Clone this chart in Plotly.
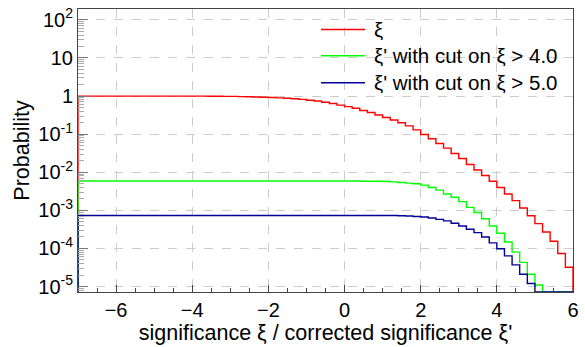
import numpy as np
import plotly.graph_objects as go

# Histogram binning: 65 bins of width 0.2 from -7 to 6
bin_lo = -7.0
bin_hi = 6.0
n_bins = 65

# Probability per bin (survival-type curves)
xi_all = (
    [1.0] * 17 +
    [0.99, 0.99, 0.985, 0.98, 0.97, 0.96, 0.95, 0.935, 0.92, 0.90,
     0.875, 0.85, 0.82, 0.78, 0.74, 0.69, 0.64, 0.58, 0.53, 0.48,
     0.42, 0.37, 0.32, 0.275, 0.235, 0.20, 0.165, 0.13, 0.098, 0.076,
     0.057, 0.043, 0.031, 0.023, 0.016, 0.0115, 0.0082, 0.0058, 0.0040, 0.0027,
     0.0018, 0.00115, 0.00072, 0.00045, 0.00027, 0.000155, 0.000074, 0.000032]
)
xi_cut4 = (
    [0.0059] * 37 +
    [0.0058, 0.0058, 0.0058, 0.0057, 0.0056, 0.0054, 0.0052, 0.0050, 0.0046, 0.0040,
     0.0034, 0.0027, 0.0022, 0.0017, 0.0012, 0.00088, 0.00060, 0.00039, 0.00025, 0.000148,
     0.000080, 0.000043, 0.000021, 0.000011] +
    [0.0] * 4
)
xi_cut5 = (
    [0.00073] * 42 +
    [0.00072, 0.00071, 0.00069, 0.00067, 0.00063, 0.00058, 0.00053, 0.00046, 0.00039, 0.00032,
     0.00026, 0.00020, 0.00014, 0.000098, 0.000064, 0.000037, 0.000021, 0.000012] +
    [0.0] * 5
)

series_names = ["ξ", "ξ' with cut on ξ > 4.0", "ξ' with cut on ξ > 5.0"]
series_colors = ["#ff0000", "#00ff00", "#000099"]

x_major = [-6, -4, -2, 0, 2, 4, 6]
x_minor = [v for v in np.arange(-6.5, 6.0, 0.5) if v not in x_major]

y_log_range = [-5.143, 2.286]
y_floor = 10 ** y_log_range[0]
y_major = [10.0 ** k for k in range(-5, 3)]
y_labels = ["10<sup>-5</sup>", "10<sup>-4</sup>", "10<sup>-3</sup>", "10<sup>-2</sup>",
            "10<sup>-1</sup>", "1", "10", "10<sup>2</sup>"]
y_minor = [m * 10.0 ** k for k in range(-6, 3) for m in range(2, 10)]

edges = np.linspace(bin_lo, bin_hi, n_bins + 1)

# Canvas / plot-area geometry in pixels
W, H = 585, 347
M_L, M_R, M_T, M_B = 78, 12, 6, 55
plot_w = W - M_L - M_R
plot_h = H - M_T - M_B


def px_to_paper(px, py):
    return (px - M_L) / plot_w, 1 - (py - M_T) / plot_h


def outline(values):
    """Histogram outline closed down to the axis floor at both ends."""
    v = np.maximum(np.asarray(values, dtype=float), y_floor)
    xs = np.concatenate([[edges[0]], edges[:-1], [edges[-1], edges[-1]]])
    ys = np.concatenate([[y_floor], v, [v[-1], y_floor]])
    return xs, ys


fig = go.Figure()
for vals, name, col in zip([xi_all, xi_cut4, xi_cut5], series_names, series_colors):
    xs, ys = outline(vals)
    fig.add_trace(go.Scatter(
        x=xs, y=ys, mode="lines", name=name, showlegend=False,
        line=dict(color=col, width=1.4, shape="hv"),
    ))

font_family = "Liberation Sans, Arial, sans-serif"

# Legend box without frame: line sample + label per row
legend_rows_px = [26.7, 53.3, 80.5]
for row_py, name, col in zip(legend_rows_px, series_names, series_colors):
    x0, yy = px_to_paper(321, row_py)
    x1, _ = px_to_paper(365, row_py)
    xt, _ = px_to_paper(372, row_py)
    fig.add_shape(type="line", xref="paper", yref="paper",
                  x0=x0, x1=x1, y0=yy, y1=yy,
                  line=dict(color=col, width=1.4))
    fig.add_annotation(xref="paper", yref="paper", x=xt, y=yy,
                       xanchor="left", yanchor="middle", showarrow=False,
                       text=name, font=dict(size=20.5, family=font_family, color="black"))

fig.update_layout(
    width=W, height=H,
    margin=dict(l=M_L, r=M_R, t=M_T, b=M_B),
    paper_bgcolor="white", plot_bgcolor="white",
    font=dict(family=font_family, color="black"),
    showlegend=False,
    xaxis=dict(
        range=[bin_lo, bin_hi],
        tickmode="array", tickvals=x_major,
        ticks="inside", ticklen=7, tickcolor="#444", tickwidth=1,
        tickfont=dict(size=20),
        showgrid=True, gridcolor="#cccccc", griddash="dash", gridwidth=1,
        showline=True, linecolor="#444", linewidth=1, mirror=True,
        zeroline=False,
        minor=dict(tickvals=x_minor, ticks="inside",
                   ticklen=4, tickcolor="#444", showgrid=False),
        title=dict(text="significance ξ / corrected significance ξ'",
                   font=dict(size=21.5), standoff=4),
    ),
    yaxis=dict(
        type="log", range=y_log_range,
        tickmode="array", tickvals=y_major, ticktext=y_labels,
        ticks="inside", ticklen=10, tickcolor="#777", tickwidth=1,
        tickfont=dict(size=20),
        showgrid=True, gridcolor="#cccccc", griddash="dash", gridwidth=1,
        showline=True, linecolor="#444", linewidth=1, mirror=True,
        zeroline=False,
        minor=dict(tickvals=y_minor, ticks="inside", ticklen=6,
                   tickcolor="#aaaaaa", showgrid=False),
        title=dict(text="Probability", font=dict(size=21.5), standoff=2),
    ),
)

fig.write_html("out.html")
